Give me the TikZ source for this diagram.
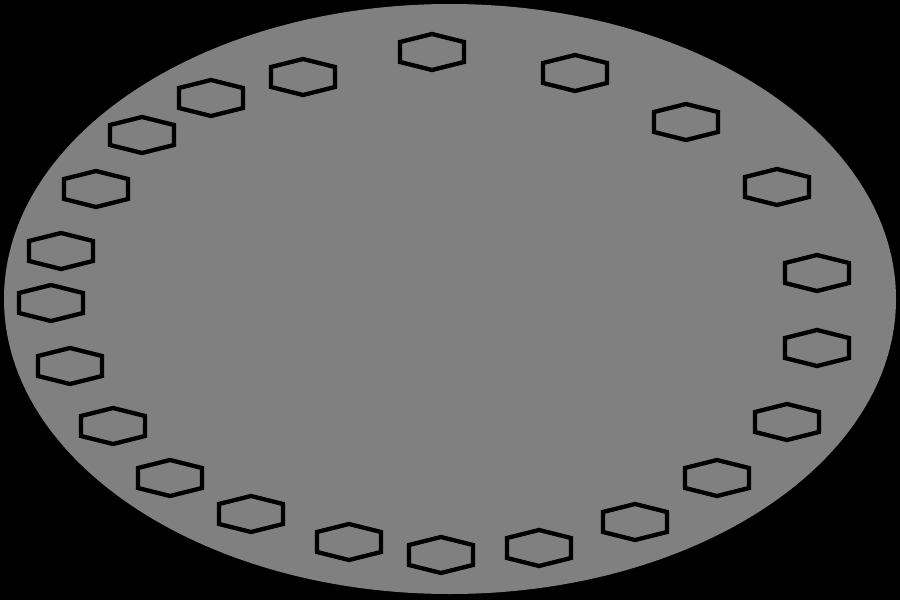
\documentclass[tikz,border=0pt]{standalone}
\usepackage{tikz}
\usepackage{xcolor}
\definecolor{Disc}{HTML}{808080}
\tikzset{
  backdrop/.style={fill=black},
  disc/.style={fill=Disc},
  cell/.style={draw=black, line width=4.3pt, line join=miter},
}

\begin{document}
\begin{tikzpicture}[x=1pt, y=-1pt]
  \fill[backdrop] (0,0) rectangle (900,600);
  \useasboundingbox (0,0) rectangle (900,600);

  % the plate
  \fill[disc] (450,299) ellipse [x radius=446, y radius=295];

  % ring of hexagonal cells
  \foreach \cx/\cy in {432/52, 575/73, 686/122, 777/187, 817/273, 817/348,
      787/422, 717/478, 635/522, 539/548, 441/555, 349/542, 251/514,
      170/478, 113/426, 70/366, 51/303, 61/251, 96/189, 142/135,
      211/98, 303/77}
    \draw[cell] (\cx,\cy) ++(0,-18) -- ++(32,8) -- ++(0,20) -- ++(-32,8)
      -- ++(-32,-8) -- ++(0,-20) -- cycle;
\end{tikzpicture}
\end{document}
